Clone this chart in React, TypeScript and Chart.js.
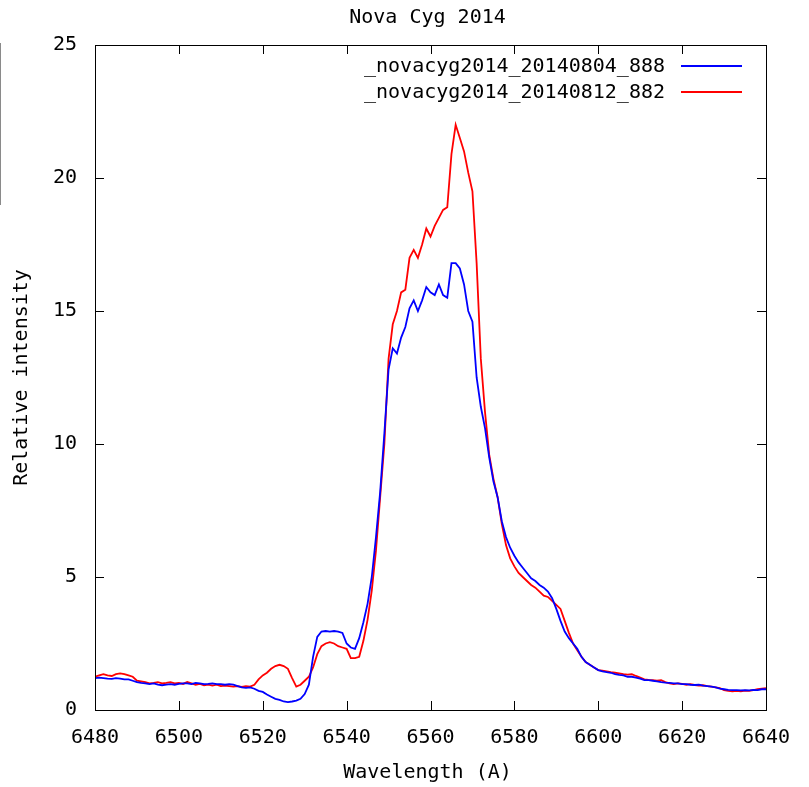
import React, { useEffect, useRef } from "react";
import { Chart, registerables } from "chart.js";

Chart.register(...registerables);

const TITLE = "Nova Cyg 2014";
const X_LABEL = "Wavelength (A)";
const Y_LABEL = "Relative intensity";
const SERIES_NAMES = ["_novacyg2014_20140804_888", "_novacyg2014_20140812_882"];
const SERIES_COLORS = ["#0000ff", "#ff0000"];

const WAVELENGTHS = [
  6480, 6481, 6482, 6483, 6484, 6485, 6486, 6487, 6488, 6489,
  6490, 6491, 6492, 6493, 6494, 6495, 6496, 6497, 6498, 6499,
  6500, 6501, 6502, 6503, 6504, 6505, 6506, 6507, 6508, 6509,
  6510, 6511, 6512, 6513, 6514, 6515, 6516, 6517, 6518, 6519,
  6520, 6521, 6522, 6523, 6524, 6525, 6526, 6527, 6528, 6529,
  6530, 6531, 6532, 6533, 6534, 6535, 6536, 6537, 6538, 6539,
  6540, 6541, 6542, 6543, 6544, 6545, 6546, 6547, 6548, 6549,
  6550, 6551, 6552, 6553, 6554, 6555, 6556, 6557, 6558, 6559,
  6560, 6561, 6562, 6563, 6564, 6565, 6566, 6567, 6568, 6569,
  6570, 6571, 6572, 6573, 6574, 6575, 6576, 6577, 6578, 6579,
  6580, 6581, 6582, 6583, 6584, 6585, 6586, 6587, 6588, 6589,
  6590, 6591, 6592, 6593, 6594, 6595, 6596, 6597, 6598, 6599,
  6600, 6601, 6602, 6603, 6604, 6605, 6606, 6607, 6608, 6609,
  6610, 6611, 6612, 6613, 6614, 6615, 6616, 6617, 6618, 6619,
  6620, 6621, 6622, 6623, 6624, 6625, 6626, 6627, 6628, 6629,
  6630, 6631, 6632, 6633, 6634, 6635, 6636, 6637, 6638, 6639,
  6640,
];

// _novacyg2014_20140804_888 (blue)
const SPECTRUM_0804 = [
  1.20, 1.22, 1.20, 1.18, 1.17, 1.20, 1.18, 1.15, 1.15, 1.10,
  1.05, 1.02, 1.00, 0.97, 1.00, 0.95, 0.93, 0.95, 0.97, 0.95,
  0.98, 1.00, 1.00, 0.97, 1.02, 1.00, 0.97, 0.98, 1.00, 0.97,
  0.97, 0.95, 0.97, 0.95, 0.90, 0.85, 0.83, 0.85, 0.80, 0.72,
  0.68, 0.58, 0.50, 0.42, 0.38, 0.32, 0.30, 0.32, 0.35, 0.42,
  0.60, 0.95, 2.00, 2.75, 2.95, 2.97, 2.95, 2.97, 2.95, 2.90,
  2.50, 2.35, 2.30, 2.70, 3.30, 4.00, 5.00, 6.50, 8.20, 10.4,
  12.8, 13.6, 13.4, 14.0, 14.4, 15.1, 15.4, 15.0, 15.4, 15.9,
  15.7, 15.6, 16.0, 15.6, 15.5, 16.8, 16.8, 16.6, 16.0, 15.0,
  14.6, 12.5, 11.4, 10.6, 9.5, 8.6, 8.0, 7.1, 6.5, 6.1,
  5.8, 5.55, 5.35, 5.15, 4.95, 4.85, 4.7, 4.6, 4.45, 4.2,
  3.8, 3.35, 2.95, 2.7, 2.5, 2.3, 2.0, 1.8, 1.7, 1.6,
  1.5, 1.45, 1.42, 1.40, 1.35, 1.32, 1.30, 1.25, 1.25, 1.22,
  1.18, 1.12, 1.12, 1.10, 1.08, 1.05, 1.03, 1.02, 1.00, 1.00,
  0.97, 0.97, 0.95, 0.94, 0.95, 0.92, 0.90, 0.88, 0.85, 0.80,
  0.78, 0.76, 0.75, 0.75, 0.74, 0.75, 0.74, 0.76, 0.75, 0.78,
  0.78,
];

// _novacyg2014_20140812_882 (red)
const SPECTRUM_0812 = [
  1.25, 1.30, 1.35, 1.30, 1.28, 1.35, 1.38, 1.35, 1.30, 1.25,
  1.10, 1.08, 1.05, 1.00, 1.02, 1.05, 1.00, 1.02, 1.05, 1.00,
  1.02, 0.98, 1.05, 1.00, 0.95, 0.98, 0.93, 0.95, 0.92, 0.95,
  0.90, 0.92, 0.90, 0.88, 0.90, 0.87, 0.90, 0.88, 0.95, 1.15,
  1.30, 1.40, 1.55, 1.65, 1.70, 1.65, 1.55, 1.20, 0.88, 0.95,
  1.10, 1.25, 1.60, 2.10, 2.40, 2.50, 2.55, 2.50, 2.40, 2.35,
  2.30, 1.95, 1.95, 2.00, 2.60, 3.40, 4.50, 6.00, 8.00, 10.0,
  13.2, 14.5, 15.0, 15.7, 15.8, 17.0, 17.3, 17.0, 17.5, 18.1,
  17.8, 18.2, 18.5, 18.8, 18.9, 20.9, 22.0, 21.5, 21.0, 20.2,
  19.5, 16.8, 13.2, 11.2, 9.6, 8.7, 8.0, 7.0, 6.2, 5.7,
  5.4, 5.15, 5.0, 4.85, 4.7, 4.6, 4.45, 4.3, 4.25, 4.1,
  3.95, 3.8, 3.35, 2.9, 2.5, 2.25, 2.0, 1.8, 1.7, 1.6,
  1.5, 1.48, 1.45, 1.42, 1.40, 1.38, 1.35, 1.33, 1.35, 1.28,
  1.22, 1.15, 1.13, 1.12, 1.10, 1.12, 1.05, 1.00, 0.97, 1.00,
  0.98, 0.95, 0.97, 0.94, 0.92, 0.93, 0.90, 0.88, 0.85, 0.82,
  0.75, 0.72, 0.70, 0.72, 0.70, 0.73, 0.72, 0.75, 0.78, 0.80,
  0.82,
];

const X_MIN = 6480;
const X_MAX = 6640;
const X_STEP = 20;
const Y_MIN = 0;
const Y_MAX = 25;
const Y_STEP = 5;

const FONT_FAMILY = "'DejaVu Sans Mono', 'Liberation Mono', monospace";
const FONT_SIZE = 20;

const gnuplotFrame = {
  id: "gnuplotFrame",
  afterDraw(chart: any) {
    const { ctx, chartArea: a, scales } = chart;
    const xs = scales.x;
    const ys = scales.y;
    ctx.save();
    ctx.strokeStyle = "#000";
    ctx.lineWidth = 1;
    ctx.strokeRect(a.left + 0.5, a.top + 0.5, a.right - a.left, a.bottom - a.top);
    const tl = 9;
    ctx.beginPath();
    xs.ticks.forEach((t: any) => {
      const px = Math.round(xs.getPixelForValue(t.value)) + 0.5;
      ctx.moveTo(px, a.bottom);
      ctx.lineTo(px, a.bottom - tl);
      ctx.moveTo(px, a.top);
      ctx.lineTo(px, a.top + tl);
    });
    ys.ticks.forEach((t: any) => {
      const py = Math.round(ys.getPixelForValue(t.value)) + 0.5;
      ctx.moveTo(a.left, py);
      ctx.lineTo(a.left + tl, py);
      ctx.moveTo(a.right, py);
      ctx.lineTo(a.right - tl, py);
    });
    ctx.stroke();

    ctx.fillStyle = "#000";
    ctx.font = `${FONT_SIZE}px ${FONT_FAMILY}`;
    ctx.textBaseline = "middle";
    ctx.textAlign = "center";
    const cx = (a.left + a.right) / 2 - 3;
    ctx.fillText(TITLE, cx, 18);
    ctx.fillText(X_LABEL, cx, 773);

    ctx.save();
    ctx.translate(22, (a.top + a.bottom) / 2);
    ctx.rotate(-Math.PI / 2);
    ctx.fillText(Y_LABEL, 0, 0);
    ctx.restore();

    // legend, gnuplot style (top-right, inside)
    chart.data.datasets.forEach((ds: any, i: number) => {
      const y = 67 + i * 26;
      ctx.textAlign = "right";
      ctx.fillStyle = "#000";
      ctx.fillText(ds.label, 665, y);
      ctx.beginPath();
      ctx.strokeStyle = ds.borderColor;
      ctx.lineWidth = 2;
      ctx.moveTo(681, y - 1);
      ctx.lineTo(742, y - 1);
      ctx.stroke();
    });
    ctx.restore();
  },
};

export default function App() {
  const ref = useRef<HTMLCanvasElement | null>(null);

  useEffect(() => {
    if (!ref.current) return;
    const series = [SPECTRUM_0804, SPECTRUM_0812];
    const chart = new Chart(ref.current, {
      type: "line",
      data: {
        datasets: series.map((vals, i) => ({
          label: SERIES_NAMES[i],
          data: WAVELENGTHS.map((w, j) => ({ x: w, y: vals[j] })),
          borderColor: SERIES_COLORS[i],
          backgroundColor: SERIES_COLORS[i],
          borderWidth: 1.8,
          pointRadius: 0,
          tension: 0,
          fill: false,
        })),
      },
      options: {
        responsive: false,
        animation: false,
        devicePixelRatio: 1,
        layout: { padding: { top: 45, right: 43, left: 0, bottom: 0 } },
        plugins: {
          legend: { display: false },
          title: { display: false },
          tooltip: { enabled: false },
        },
        scales: {
          x: {
            type: "linear",
            min: X_MIN,
            max: X_MAX,
            grid: { display: false, drawTicks: false },
            border: { display: false },
            ticks: {
              stepSize: X_STEP,
              padding: 16,
              color: "#000",
              maxRotation: 0,
              font: { family: FONT_FAMILY, size: FONT_SIZE },
              callback: (v: any) => String(v),
            },
            afterFit(scale: any) {
              scale.height = 77;
            },
          },
          y: {
            type: "linear",
            min: Y_MIN,
            max: Y_MAX,
            grid: { display: false, drawTicks: false },
            border: { display: false },
            ticks: {
              stepSize: Y_STEP,
              padding: 18,
              color: "#000",
              font: { family: FONT_FAMILY, size: FONT_SIZE },
              callback: (v: any) => String(v),
            },
            afterFit(scale: any) {
              scale.width = 95;
            },
          },
        },
      },
      plugins: [gnuplotFrame],
    });
    return () => chart.destroy();
  }, []);

  return (
    <div style={{ position: "absolute", left: 0, top: 0, width: 809, height: 787, background: "#fff" }}>
      <canvas ref={ref} width={809} height={787} style={{ display: "block" }} />
      <div style={{ position: "absolute", left: 0, top: 43, width: 1, height: 162, background: "#8a8a8a" }} />
    </div>
  );
}
